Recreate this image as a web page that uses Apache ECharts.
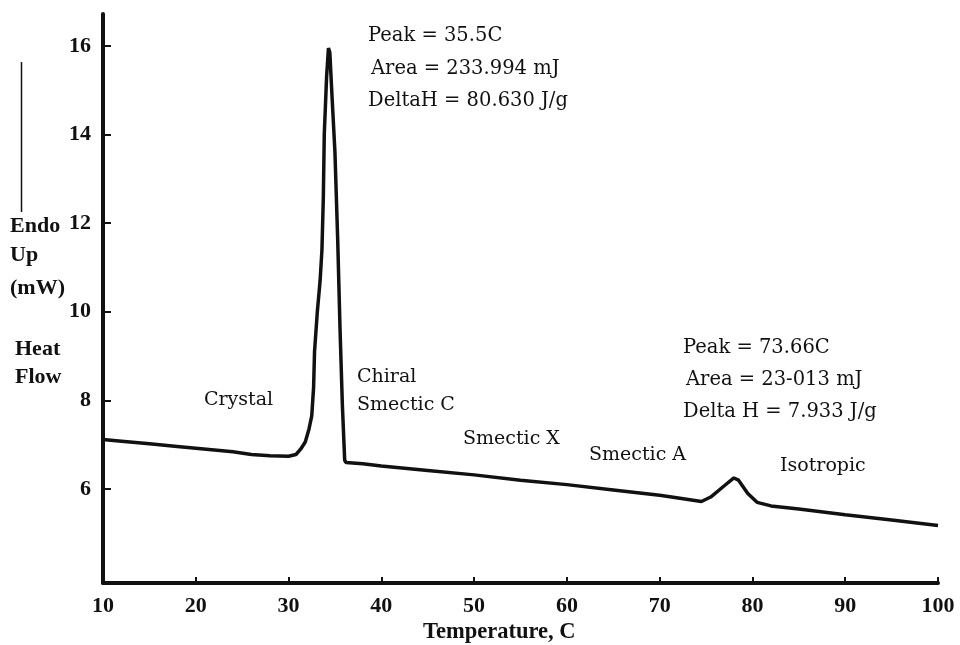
<!DOCTYPE html>
<html>
<head>
<meta charset="utf-8">
<script src="https://cdn.jsdelivr.net/npm/echarts@6/dist/echarts.min.js"></script>
<style>
  html, body { margin: 0; padding: 0; background: #fff; }
  #dsc_chart { width: 960px; height: 645px; }
</style>
</head>
<body>
<div id="dsc_chart"></div>
<script>
// DSC trace
var temperature = [10, 12, 15, 18, 20, 22, 24, 26, 28, 30, 30.8, 31.3, 31.8, 32.2, 32.5, 32.7, 32.8, 33.1, 33.4, 33.6, 33.75, 33.85, 34.1, 34.3, 34.45, 34.7, 35.0, 35.3, 35.55, 35.8, 36.05, 36.2, 38, 40, 45, 50, 55, 60, 65, 70, 72, 74.5, 75.5, 77, 78, 78.5, 79.5, 80.5, 82, 85, 90, 95, 100];
var heatFlow = [7.12, 7.08, 7.02, 6.96, 6.92, 6.88, 6.84, 6.78, 6.75, 6.74, 6.78, 6.9, 7.06, 7.35, 7.65, 8.3, 9.1, 10.0, 10.7, 11.4, 12.6, 14.0, 15.3, 15.95, 15.85, 14.8, 13.6, 11.6, 9.6, 7.9, 6.65, 6.6, 6.57, 6.52, 6.42, 6.32, 6.2, 6.1, 5.98, 5.86, 5.8, 5.72, 5.82, 6.08, 6.25, 6.2, 5.9, 5.7, 5.62, 5.55, 5.42, 5.3, 5.18];
var yTicks = [6, 8, 10, 12, 14, 16];
var peak1Text = ['Peak = 35.5C', 'Area = 233.994 mJ', 'DeltaH = 80.630 J/g'];
var peak2Text = ['Peak = 73.66C', 'Area = 23-013 mJ', 'Delta H = 7.933 J/g'];
var phaseNames = ['Crystal', 'Chiral', 'Smectic C', 'Smectic X', 'Smectic A', 'Isotropic'];
var yTitle = ['Endo', 'Up', '(mW)', 'Heat', 'Flow'];

var chartDom = document.getElementById('dsc_chart');
var myChart = echarts.init(chartDom);

var seriesData = [];
for (var i = 0; i < temperature.length; i++) {
  seriesData.push([temperature[i], heatFlow[i]]);
}

var boldFont = 'Liberation Serif';
var plainFont = 'DejaVu Serif';

function plainText(str, x, y, size) {
  return {
    type: 'text', left: x, top: y - 11,
    style: { text: str, fontFamily: plainFont, fontSize: size || 19, fill: '#111' }
  };
}
function boldText(str, x, y) {
  return {
    type: 'text', left: x, top: y - 12,
    style: { text: str, fontFamily: boldFont, fontWeight: 'bold', fontSize: 22, fill: '#111' }
  };
}

var graphics = [
  { type: 'line', shape: { x1: 21.5, y1: 62, x2: 21.5, y2: 212 }, style: { stroke: '#111', lineWidth: 1.5 } },
  plainText(peak1Text[0], 368, 37, 19.5),
  plainText(peak1Text[1], 371, 70, 19.5),
  plainText(peak1Text[2], 368, 102, 19.5),
  plainText(peak2Text[0], 683, 349, 19.5),
  plainText(peak2Text[1], 686, 381, 19.5),
  plainText(peak2Text[2], 683, 413, 19.5),
  plainText(phaseNames[0], 204, 402),
  plainText(phaseNames[1], 357, 379),
  plainText(phaseNames[2], 357, 407),
  plainText(phaseNames[3], 463, 441),
  plainText(phaseNames[4], 589, 457),
  plainText(phaseNames[5], 780, 468),
  boldText(yTitle[0], 10, 227),
  boldText(yTitle[1], 10, 256),
  boldText(yTitle[2], 10, 289),
  boldText(yTitle[3], 15, 350),
  boldText(yTitle[4], 15, 378),
  {
    type: 'text', left: 423, top: 621,
    style: { text: 'Temperature, C', fontFamily: boldFont, fontWeight: 'bold', fontSize: 22.5, fill: '#111' }
  }
];

var option = {
  animation: false,
  backgroundColor: '#fff',
  grid: { left: 103, right: 22, top: 14, bottom: 62 },
  xAxis: {
    type: 'value',
    min: 10,
    max: 100,
    interval: 10,
    axisLine: { lineStyle: { color: '#111', width: 4 } },
    axisTick: { inside: true, length: 6, lineStyle: { color: '#111', width: 2 } },
    axisLabel: { margin: 12, color: '#111', fontFamily: boldFont, fontWeight: 'bold', fontSize: 22 },
    splitLine: { show: false }
  },
  yAxis: {
    type: 'value',
    min: 3.88,
    max: 16.72,
    axisLine: { show: true, lineStyle: { color: '#111', width: 4 } },
    axisTick: { show: true, inside: true, length: 8, customValues: yTicks, lineStyle: { color: '#111', width: 2 } },
    axisLabel: { margin: 12, customValues: yTicks, color: '#111', fontFamily: boldFont, fontWeight: 'bold', fontSize: 22 },
    splitLine: { show: false }
  },
  series: [
    {
      type: 'line',
      data: seriesData,
      showSymbol: false,
      smooth: false,
      lineStyle: { color: '#111', width: 3.5 }
    }
  ],
  graphic: graphics
};

myChart.setOption(option);
</script>
</body>
</html>
